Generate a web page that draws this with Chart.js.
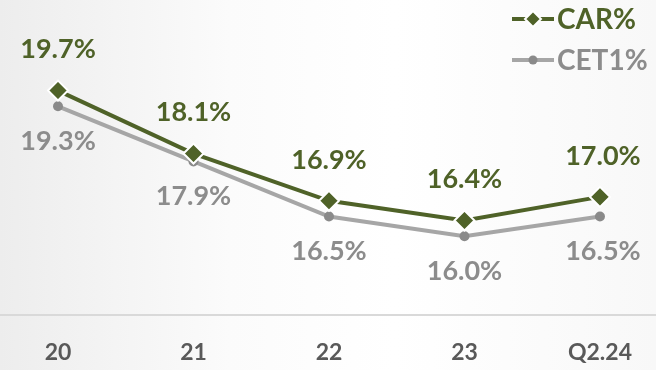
<!DOCTYPE html>
<html>
<head>
<meta charset="utf-8">
<script src="https://cdn.jsdelivr.net/npm/chart.js@4.4.1/dist/chart.umd.min.js"></script>
<style>
  html, body { margin: 0; padding: 0; }
  body { width: 656px; height: 370px; background: linear-gradient(to right, #ededed 0%, #fbfbfb 35%, #ffffff 60%, #f8f8f8 100%); }
  #wrap { position: relative; width: 656px; height: 370px; }
  canvas { display: block; }
</style>
</head>
<body>
<div id="wrap"><canvas id="chart" width="656" height="370"></canvas></div>
<script>
// capital ratios by period
const periods = ['20', '21', '22', '23', 'Q2.24']
const carValues = [19.7, 18.1, 16.9, 16.4, 17.0]
const cet1Values = [19.3, 17.9, 16.5, 16.0, 16.5]

const GREEN = '#4f6228'
const GREY_LINE = '#a6a6a6'
const GREY_DOT = '#8a8a8a'
const FONT = 'Lato, "Open Sans", sans-serif'

// value labels above/below each point
const valueLabels = {
  id: 'valueLabels',
  afterDatasetsDraw(chart){
    const ctx = chart.ctx
    ctx.save()
    ctx.font = 'bold 27px ' + FONT
    ctx.textAlign = 'center'
    ctx.textBaseline = 'middle'
    chart.data.datasets.forEach((ds, di) => {
      const meta = chart.getDatasetMeta(di)
      meta.data.forEach((pt, i) => {
        const v = ds.data[i].toFixed(1) + '%'
        ctx.fillStyle = ds.labelColor
        const dy = di === 0 ? -41 : 35
        ctx.fillText(v, pt.x + (i === 4 ? 3 : 0), pt.y + dy)
      })
    })
    ctx.restore()
  }
}

// baseline across the full width plus legend at top right
const decor = {
  id: 'decor',
  beforeDatasetsDraw(chart){
    const ctx = chart.ctx
    const y = chart.chartArea.bottom
    ctx.save()
    ctx.strokeStyle = '#d9d9d9'
    ctx.lineWidth = 2
    ctx.beginPath(); ctx.moveTo(0, y); ctx.lineTo(chart.width, y); ctx.stroke()
    ctx.restore()
  },
  afterDraw(chart){
    const ctx = chart.ctx
    ctx.save()
    ctx.font = 'bold 28px ' + FONT
    ctx.textBaseline = 'middle'
    // CAR%
    ctx.strokeStyle = GREEN; ctx.lineWidth = 4
    ctx.beginPath(); ctx.moveTo(512, 19); ctx.lineTo(554, 19); ctx.stroke()
    ctx.fillStyle = GREEN; ctx.strokeStyle = '#ffffff'; ctx.lineWidth = 2
    ctx.beginPath(); ctx.moveTo(533, 11); ctx.lineTo(541, 19); ctx.lineTo(533, 27); ctx.lineTo(525, 19); ctx.closePath()
    ctx.fill(); ctx.stroke()
    ctx.fillStyle = GREEN
    ctx.fillText('CAR%', 557, 20)
    // CET1%
    ctx.strokeStyle = GREY_LINE; ctx.lineWidth = 4
    ctx.beginPath(); ctx.moveTo(512, 60); ctx.lineTo(554, 60); ctx.stroke()
    ctx.fillStyle = GREY_DOT
    ctx.beginPath(); ctx.arc(533, 60, 4.5, 0, Math.PI * 2); ctx.fill()
    ctx.fillStyle = '#8c8c8c'
    ctx.fillText('CET1%', 557, 61)
    ctx.restore()
  }
}

new Chart(document.getElementById('chart'), {
  type: 'line',
  data: {
    labels: periods,
    datasets: [
      { label: 'CAR%', data: carValues, borderColor: GREEN, borderWidth: 4, labelColor: GREEN,
        pointStyle: 'rectRot', pointRadius: 10, pointBackgroundColor: GREEN, pointBorderColor: '#ffffff', pointBorderWidth: 2, tension: 0 },
      { label: 'CET1%', data: cet1Values, borderColor: GREY_LINE, borderWidth: 4, labelColor: '#8c8c8c',
        pointStyle: 'circle', pointRadius: 5, pointBackgroundColor: GREY_DOT, pointBorderColor: GREY_DOT, pointBorderWidth: 0, tension: 0 }
    ]
  },
  options: {
    responsive: false,
    animation: false,
    devicePixelRatio: 1,
    layout: { autoPadding: false, padding: { left: 58, right: 56, top: 0, bottom: 0 } },
    plugins: { legend: { display: false }, tooltip: { enabled: false } },
    scales: {
      x: {
        offset: false,
        grid: { display: false, drawTicks: false },
        border: { display: false },
        ticks: { color: '#595959', font: { family: FONT, size: 23, weight: 'bold' }, padding: 24, maxRotation: 0, autoSkip: false },
        afterFit(scale){ scale.height = 55 }
      },
      y: {
        display: false,
        min: 14, max: 22
      }
    }
  },
  plugins: [valueLabels, decor]
})
</script>
</body>
</html>
